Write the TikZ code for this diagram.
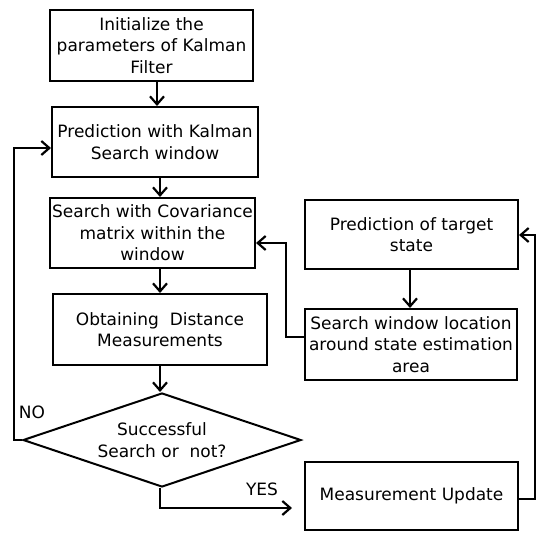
\documentclass[tikz,border=0pt]{standalone}
\usepackage{fontspec}
\setmainfont{DejaVu Sans}
\usetikzlibrary{shapes.geometric,arrows.meta}
\begin{document}
\begin{tikzpicture}[x=1pt,y=-1pt,
  box/.style={draw,line width=2pt,align=center,inner sep=1pt,font=\fontsize{17}{21.5}\selectfont},
  dia/.style={draw,line width=2pt,shape=diamond,aspect=2.96,inner sep=0pt,minimum width=278pt,minimum height=94pt,align=center,font=\fontsize{17}{22}\selectfont},
  arr/.style={line width=2.2pt,-{Straight Barb[length=8pt,width=14pt,line width=2.2pt]}},
  thinln/.style={line width=1.2pt},
  lbl/.style={font=\fontsize{17}{20}\selectfont,inner sep=0pt}]
\useasboundingbox (0,0) rectangle (537,532);
\node[box,minimum width=203pt,minimum height=71pt] (b1) at (151.5,45.5) {Initialize the\\parameters of Kalman\\Filter};
\node[box,minimum width=206pt,minimum height=70pt] (b2) at (155,142) {Prediction with Kalman\\Search window};
\node[box,minimum width=205pt,minimum height=70pt] (b3) at (152.5,233) {Search with Covariance\\matrix within the\\window};
\node[box,minimum width=214pt,minimum height=71pt] (b4) at (160,329.5) {Obtaining\ \ Distance\\Measurements};
\node[dia] (d) at (162,440) {Successful\\Search or\ \ not?};
\node[box,minimum width=213pt,minimum height=69pt] (pt) at (411.5,234.5) {Prediction of target\\state};
\node[box,minimum width=212pt,minimum height=71pt] (sw) at (411,344.5) {Search window location\\around state estimation\\area};
\node[box,minimum width=213pt,minimum height=68pt] (mu) at (411.5,496) {Measurement Update};
\node[lbl] (no) at (32,412) {NO};
\node[lbl] (yes) at (262,489) {YES};
% main chain
\draw[arr] ([xshift=2pt]b2.north |- b1.south) -- ([xshift=2pt]b2.north);
\draw[arr] ([xshift=5pt]b2.south) -- ([xshift=5pt]b2.south |- b3.north);
\draw[arr] (b4.north |- b3.south) -- (b4.north);
\draw[arr] ([xshift=-2pt]d.north |- b4.south) -- ([xshift=-2pt]d.north);
% NO loop
\coordinate (noc) at (14,148);
\draw[thinln] (d.west) -| (noc);
\draw[arr] ([xshift=-0.6pt]noc) -- (noc -| b2.west);
% YES
\coordinate (ys) at (160,508);
\draw[thinln] ([xshift=-2pt]d.south) -- (ys);
\draw[arr] ([xshift=-0.6pt]ys) -- ([xshift=-12pt]ys -| mu.west);
% measurement update loop
\coordinate (mr) at (535,235);
\draw[thinln,-{Straight Barb[length=8pt,width=14pt,line width=2.2pt]}] ([yshift=-3pt]mu.east) -| (mr) -- (mr -| pt.east);
% prediction -> search window
\draw[arr] ([xshift=-1.5pt]pt.south) -- ([xshift=-1.5pt]pt.south |- sw.north);
% search window -> covariance
\coordinate (sc) at (286,243);
\draw[arr] ([yshift=7.5pt]sw.west) -| (sc) -- (sc -| b3.east);
\end{tikzpicture}
\end{document}
